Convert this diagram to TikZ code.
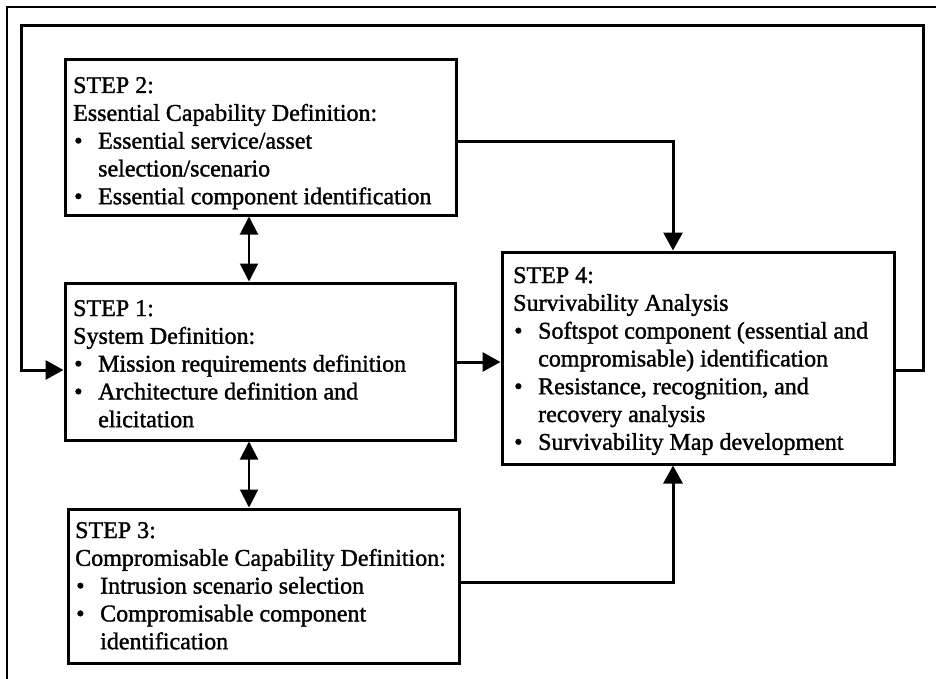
\documentclass[tikz,border=0pt]{standalone}
\usepackage{fontspec}
\setmainfont[FakeBold=1.4]{Liberation Serif}
\usetikzlibrary{arrows.meta}
\newcommand\stepbul{\makebox[25pt][l]{\hspace{1pt}\textbullet}}
\newcommand\stepind{\hspace*{25pt}}
\begin{document}
\begin{tikzpicture}[x=1pt,y=-1pt,
  stepbox/.style={draw, line width=3pt, rectangle, inner sep=0pt},
  steptext/.style={anchor=base west, inner sep=0pt, font=\fontsize{24}{27.8}\selectfont},
  conn/.style={line width=3pt, -{Triangle[width=19pt,length=18pt]}},
  dbl/.style={line width=2pt, {Triangle[width=18pt,length=18pt]}-{Triangle[width=18pt,length=18pt]}},
  frame/.style={line width=2pt}]
\useasboundingbox (0,0) rectangle (936,679);
\fill[white] (0,0) rectangle (936,679);
% outer frame (only left and top edges visible)
\coordinate (f1) at (7,679);
\coordinate (f2) at (7,7);
\coordinate (f3) at (936,7);
\draw[frame] (f1) -- (f2) -- (f3);

% boxes
\node[stepbox, minimum width=391pt, minimum height=155pt] (s2) at (260.5,137.5) {};
\node[stepbox, minimum width=390pt, minimum height=157pt] (s1) at (260,361.5) {};
\node[stepbox, minimum width=391pt, minimum height=154pt] (s3) at (263.5,586) {};
\node[stepbox, minimum width=392pt, minimum height=212pt] (s4) at (698,358) {};

% texts
\node[steptext] (t2) at (73,93) {\begin{tabular}[t]{@{}l@{}}
STEP 2:\\
Essential Capability Definition:\\
\stepbul Essential service/asset\\
\stepind selection/scenario\\
\stepbul Essential component identification
\end{tabular}};
\node[steptext] (t1) at (73,316) {\begin{tabular}[t]{@{}l@{}}
STEP 1:\\
System Definition:\\
\stepbul Mission requirements definition\\
\stepbul Architecture definition and\\
\stepind elicitation
\end{tabular}};
\node[steptext] (t3) at (75,538) {\begin{tabular}[t]{@{}l@{}}
STEP 3:\\
Compromisable Capability Definition:\\
\stepbul Intrusion scenario selection\\
\stepbul Compromisable component\\
\stepind identification
\end{tabular}};
\node[steptext] (t4) at (513,283) {\begin{tabular}[t]{@{}l@{}}
STEP 4:\\
Survivability Analysis\\
\stepbul Softspot component (essential and\\
\stepind compromisable) identification\\
\stepbul Resistance, recognition, and\\
\stepind recovery analysis\\
\stepbul Survivability Map development
\end{tabular}};

% helper coordinates
\coordinate (a) at (249,0);
\coordinate (k1) at (673,142);
\coordinate (k2) at (480,362);
\coordinate (k3) at (673,582);
\coordinate (ly) at (0,370);
\coordinate (lt) at (21,26);
\coordinate (rt) at (923,26);

% connectors
\draw[dbl] (s2.south -| a) -- (s1.north -| a);
\draw[dbl] (s1.south -| a) -- (s3.north -| a);
\draw[conn] (s2.east |- k1) -| (s4.north -| k1);
\draw[conn] (s1.east |- k2) -- (s4.west |- k2);
\draw[conn] (s3.east |- k3) -| (s4.south -| k3);
\draw[conn] (s4.east |- ly) -| (rt) -- (lt) |- (s1.west |- ly);
\end{tikzpicture}
\end{document}
